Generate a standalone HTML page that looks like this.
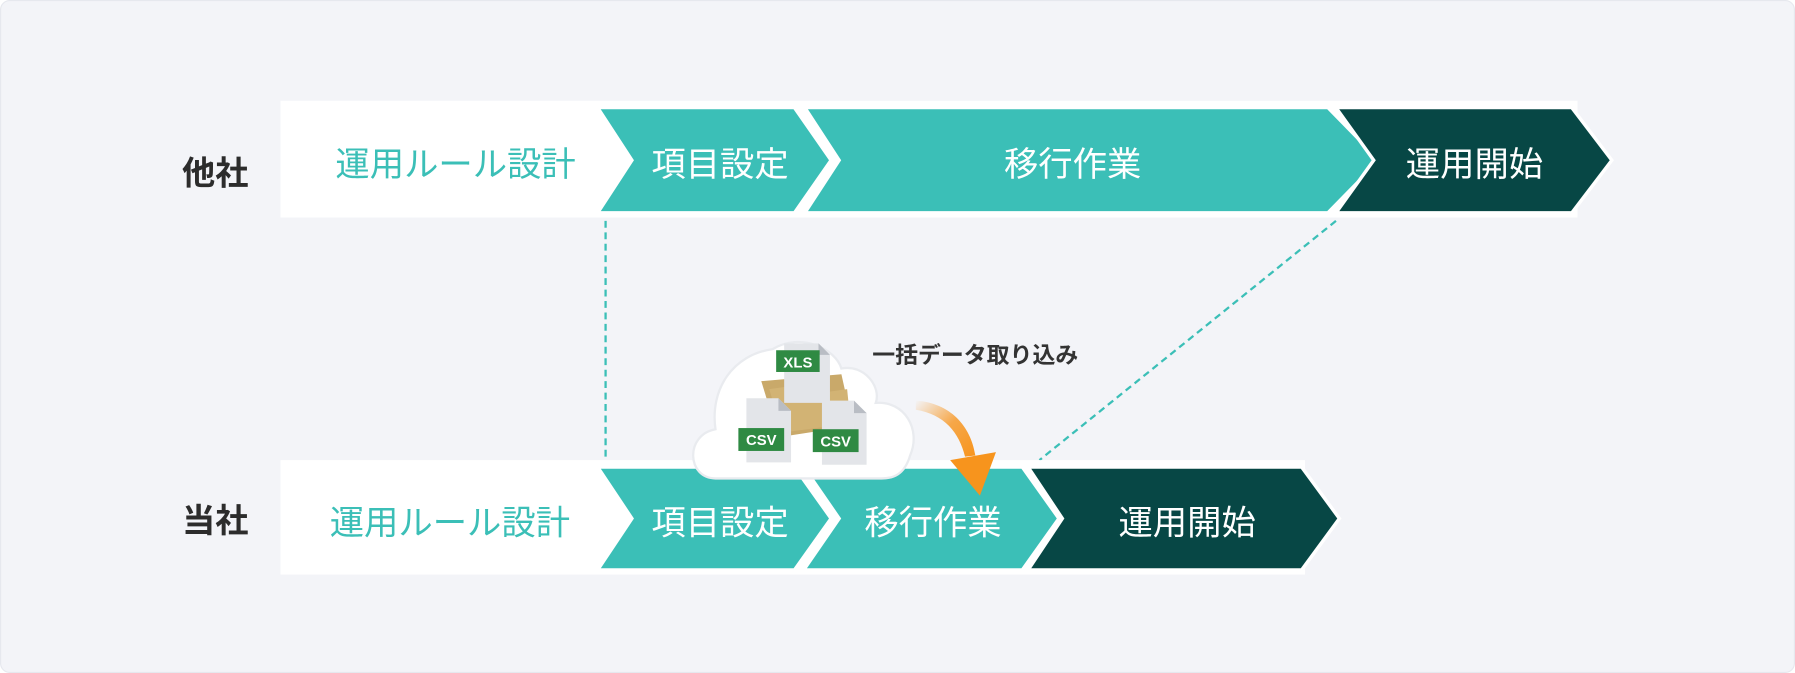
<!DOCTYPE html>
<html><head><meta charset="utf-8"><style>
html,body{margin:0;padding:0;background:#fff;}
svg{display:block}
text{font-family:"Liberation Sans","Noto Sans CJK JP",sans-serif;}
</style></head><body>
<svg width="1795" height="673" viewBox="0 0 1568 588" preserveAspectRatio="none">
<defs>
<linearGradient id="og" x1="0" y1="0" x2="1" y2="1">
<stop offset="0" stop-color="#f7941d" stop-opacity="0"/>
<stop offset="0.5" stop-color="#f7941d" stop-opacity="0.8"/>
<stop offset="1" stop-color="#f7941d"/>
</linearGradient>
</defs>
<rect x="0.5" y="0.5" width="1567" height="587" rx="8" fill="#f3f4f8" stroke="#e6e8ee"/>
<rect x="245" y="88" width="1133" height="102" fill="#fff"/>
<g stroke="#fff" stroke-width="3" stroke-linejoin="miter">
<polygon points="522,94 694,94 726,140 694,186 522,186 552,140" fill="#3bbfb7"/>
<polygon points="703,94 1160,94 1205,140 1160,186 703,186 733,140" fill="#3bbfb7"/>
<polygon points="1167,94 1373,94 1408,140 1373,186 1167,186 1200,140" fill="#074745"/>
</g>
<text x="188" y="161" font-size="29" font-weight="bold" fill="#2c2c2c" text-anchor="middle">他社</text>
<text x="398" y="154" font-size="30" fill="#3bbfb7" text-anchor="middle">運用ルール設計</text>
<text x="629" y="154" font-size="30" fill="#fff" text-anchor="middle">項目設定</text>
<text x="937" y="154" font-size="30" fill="#fff" text-anchor="middle">移行作業</text>
<text x="1288" y="154" font-size="30" fill="#fff" text-anchor="middle">運用開始</text>
<line x1="529" y1="193" x2="529" y2="400" stroke="#3bbfb7" stroke-width="2" stroke-dasharray="6,4"/>
<line x1="1167" y1="193" x2="908" y2="402" stroke="#3bbfb7" stroke-width="2" stroke-dasharray="6,4"/>
<rect x="245" y="402" width="895" height="100" fill="#fff"/>
<g stroke="#fff" stroke-width="3">
<polygon points="522,408 694,408 726,453 694,498 522,498 552,453" fill="#3bbfb7"/>
<polygon points="702,408 893,408 925,453 893,498 702,498 733,453" fill="#3bbfb7"/>
<polygon points="898,408 1137,408 1170,453 1137,498 898,498 928,453" fill="#074745"/>
</g>
<text x="188" y="465" font-size="29" font-weight="bold" fill="#2c2c2c" text-anchor="middle">当社</text>
<text x="393" y="467" font-size="30" fill="#3bbfb7" text-anchor="middle">運用ルール設計</text>
<text x="629" y="467" font-size="30" fill="#fff" text-anchor="middle">項目設定</text>
<text x="815" y="467" font-size="30" fill="#fff" text-anchor="middle">移行作業</text>
<text x="1037" y="467" font-size="30" fill="#fff" text-anchor="middle">運用開始</text>
<g fill="#fff" stroke="#e9ebef" stroke-width="2">
<path d="M625,418 C600,418 598,380 625,375 C620,340 640,310 675,305 C700,290 730,305 735,322 C755,318 770,338 765,352 C790,350 805,375 795,398 C790,415 780,418 770,418 Z"/>
</g>
<polygon points="665,333 735,327 745,372 680,382" fill="#c9a96a"/>
<polygon points="672,340 700,336 705,345 740,340 743,370 683,378" fill="#d2b374"/>
<path d="M685,300 h30 l10,10 v42 h-40 z" fill="#e3e5e9"/>
<path d="M715,300 l10,10 h-10 z" fill="#b9bdc4"/>
<rect x="678" y="306" width="38" height="19" fill="#2f8a43"/>
<text x="697" y="321" font-size="13" font-weight="bold" fill="#fff" text-anchor="middle">XLS</text>
<path d="M652,348 h28 l11,11 v45 h-39 z" fill="#e3e5e9"/>
<path d="M680,348 l11,11 h-11 z" fill="#b9bdc4"/>
<rect x="645" y="374" width="40" height="20" fill="#2f8a43"/>
<text x="665" y="389" font-size="13" font-weight="bold" fill="#fff" text-anchor="middle">CSV</text>
<path d="M718,350 h28 l11,11 v45 h-39 z" fill="#e3e5e9"/>
<path d="M746,350 l11,11 h-11 z" fill="#b9bdc4"/>
<rect x="710" y="375" width="40" height="20" fill="#2f8a43"/>
<text x="730" y="390" font-size="13" font-weight="bold" fill="#fff" text-anchor="middle">CSV</text>
<text x="762" y="317" font-size="20" font-weight="bold" fill="#333">一括データ取り込み</text>
<path d="M800,350 C830,352 848,372 852,398 L843,399 C838,378 825,362 800,358 Z" fill="url(#og)"/>
<polygon points="830,402 870,395 856,433" fill="#f7941d"/>
</svg>
</body></html>
